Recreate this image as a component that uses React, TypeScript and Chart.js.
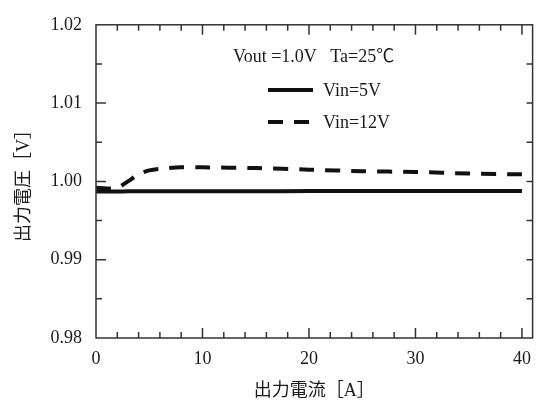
import React, { useEffect, useRef } from "react";
import { Chart, registerables } from "chart.js";

Chart.register(...registerables);

// ---- data ----
const currentA = [0, 1, 2, 3, 4, 5, 6, 8, 10, 15, 20, 25, 30, 35, 40];
const vin5V = [0.99872, 0.99872, 0.99872, 0.99873, 0.99873, 0.99874, 0.99874, 0.99874, 0.99875, 0.99875, 0.99876, 0.99876, 0.99877, 0.99877, 0.99877];
const vin12V = [0.9992, 0.9991, 0.9992, 1.0, 1.0009, 1.0014, 1.0016, 1.0018, 1.0018, 1.0017, 1.0015, 1.0013, 1.0012, 1.001, 1.0009];
const seriesLabels = ["Vin=5V", "Vin=12V"];
const xTickValues = [0, 10, 20, 30, 40];
const yTickValues = [0.98, 0.99, 1.0, 1.01, 1.02];
const yTickLabels = ["0.98", "0.99", "1.00", "1.01", "1.02"];
const conditionText = "Vout =1.0V   Ta=25\u2103";
const xTitle = "出力電流［A］";
const yTitle = "出力電圧［V］";

const FONT = '"Liberation Serif", "Noto Sans CJK JP", serif';
const INK = "#1a1a1a";

const framePlugin = {
  id: "framePlugin",
  afterDraw(chart: any) {
    const { ctx, chartArea } = chart;
    const { left, right, top, bottom } = chartArea;
    const xs = chart.scales.x;
    const ys = chart.scales.y;
    ctx.save();
    ctx.strokeStyle = "#333";
    ctx.lineWidth = 1.5;
    ctx.strokeRect(left, top, right - left, bottom - top);
    ctx.beginPath();
    // x ticks (bottom + top), every 2, major every 10
    for (let v = 0; v <= xs.max + 1e-9; v += 2) {
      const px = xs.getPixelForValue(v);
      if (px <= left + 1 || px >= right - 1) continue;
      const len = v % 10 === 0 ? 10 : 6;
      ctx.moveTo(px, bottom);
      ctx.lineTo(px, bottom - len);
      ctx.moveTo(px, top);
      ctx.lineTo(px, top + len);
    }
    // y ticks, every 0.005, major every 0.01
    for (let i = 0; i <= 8; i++) {
      const v = ys.min + i * 0.005;
      const py = ys.getPixelForValue(v);
      if (py <= top + 1 || py >= bottom - 1) continue;
      const len = i % 2 === 0 ? 10 : 6;
      ctx.moveTo(left, py);
      ctx.lineTo(left + len, py);
      ctx.moveTo(right, py);
      ctx.lineTo(right - 6, py);
    }
    ctx.stroke();

    // condition text
    ctx.fillStyle = INK;
    ctx.font = `18px ${FONT}`;
    ctx.textBaseline = "middle";
    ctx.textAlign = "left";
    ctx.fillText(conditionText, 233, 57);

    // legend
    const rows = [90, 122];
    chart.data.datasets.forEach((ds: any, i: number) => {
      const y = rows[i];
      ctx.beginPath();
      ctx.strokeStyle = ds.borderColor;
      ctx.lineWidth = ds.borderWidth;
      ctx.setLineDash(ds.borderDash || []);
      ctx.moveTo(268, y);
      ctx.lineTo(313, y);
      ctx.stroke();
      ctx.setLineDash([]);
      ctx.fillStyle = INK;
      ctx.fillText(ds.label, 323, y + 1);
    });
    ctx.restore();
  },
};

export default function App() {
  const ref = useRef<HTMLCanvasElement>(null);
  useEffect(() => {
    document.body.style.margin = "0";
    const chart = new Chart(ref.current as HTMLCanvasElement, {
      type: "line",
      data: {
        datasets: [
          {
            label: seriesLabels[0],
            data: currentA.map((x, i) => ({ x, y: vin5V[i] })),
            borderColor: "#111",
            borderWidth: 4,
            pointRadius: 0,
            tension: 0.3,
          },
          {
            label: seriesLabels[1],
            data: currentA.map((x, i) => ({ x, y: vin12V[i] })),
            borderColor: "#111",
            borderWidth: 4,
            borderDash: [15, 11],
            pointRadius: 0,
            tension: 0.3,
          },
        ],
      },
      options: {
        responsive: false,
        animation: false,
        layout: { padding: { left: 0, right: 2, top: 22, bottom: 0 } },
        plugins: { legend: { display: false }, tooltip: { enabled: false } },
        scales: {
          x: {
            type: "linear",
            min: 0,
            max: 41,
            afterBuildTicks: (s: any) => {
              s.ticks = xTickValues.map((v) => ({ value: v }));
            },
            afterFit: (s: any) => {
              s.height = 65;
            },
            grid: { display: false, drawTicks: false },
            border: { display: false },
            ticks: {
              font: { family: FONT, size: 18 },
              color: INK,
              padding: 10,
              maxRotation: 0,
              autoSkip: false,
              callback: (v: any) => String(v),
            },
            title: {
              display: true,
              text: xTitle,
              font: { family: FONT, size: 18 },
              color: INK,
              padding: { top: 0, bottom: 1 },
            },
          },
          y: {
            type: "linear",
            min: 0.98,
            max: 1.02,
            afterBuildTicks: (s: any) => {
              s.ticks = yTickValues.map((v) => ({ value: v }));
            },
            afterFit: (s: any) => {
              s.width = 96;
            },
            grid: { display: false, drawTicks: false },
            border: { display: false },
            ticks: {
              font: { family: FONT, size: 18 },
              color: INK,
              padding: 14,
              autoSkip: false,
              callback: (_v: any, i: number) => yTickLabels[i],
            },
            title: {
              display: true,
              text: yTitle,
              font: { family: FONT, size: 18 },
              color: INK,
              padding: { top: 13, bottom: 0 },
            },
          },
        },
      },
      plugins: [framePlugin],
    } as any);
    return () => chart.destroy();
  }, []);
  return (
    <div style={{ position: "fixed", left: 0, top: 0, width: 541, height: 403, background: "#fff" }}>
      <canvas ref={ref} width={541} height={403} />
    </div>
  );
}
